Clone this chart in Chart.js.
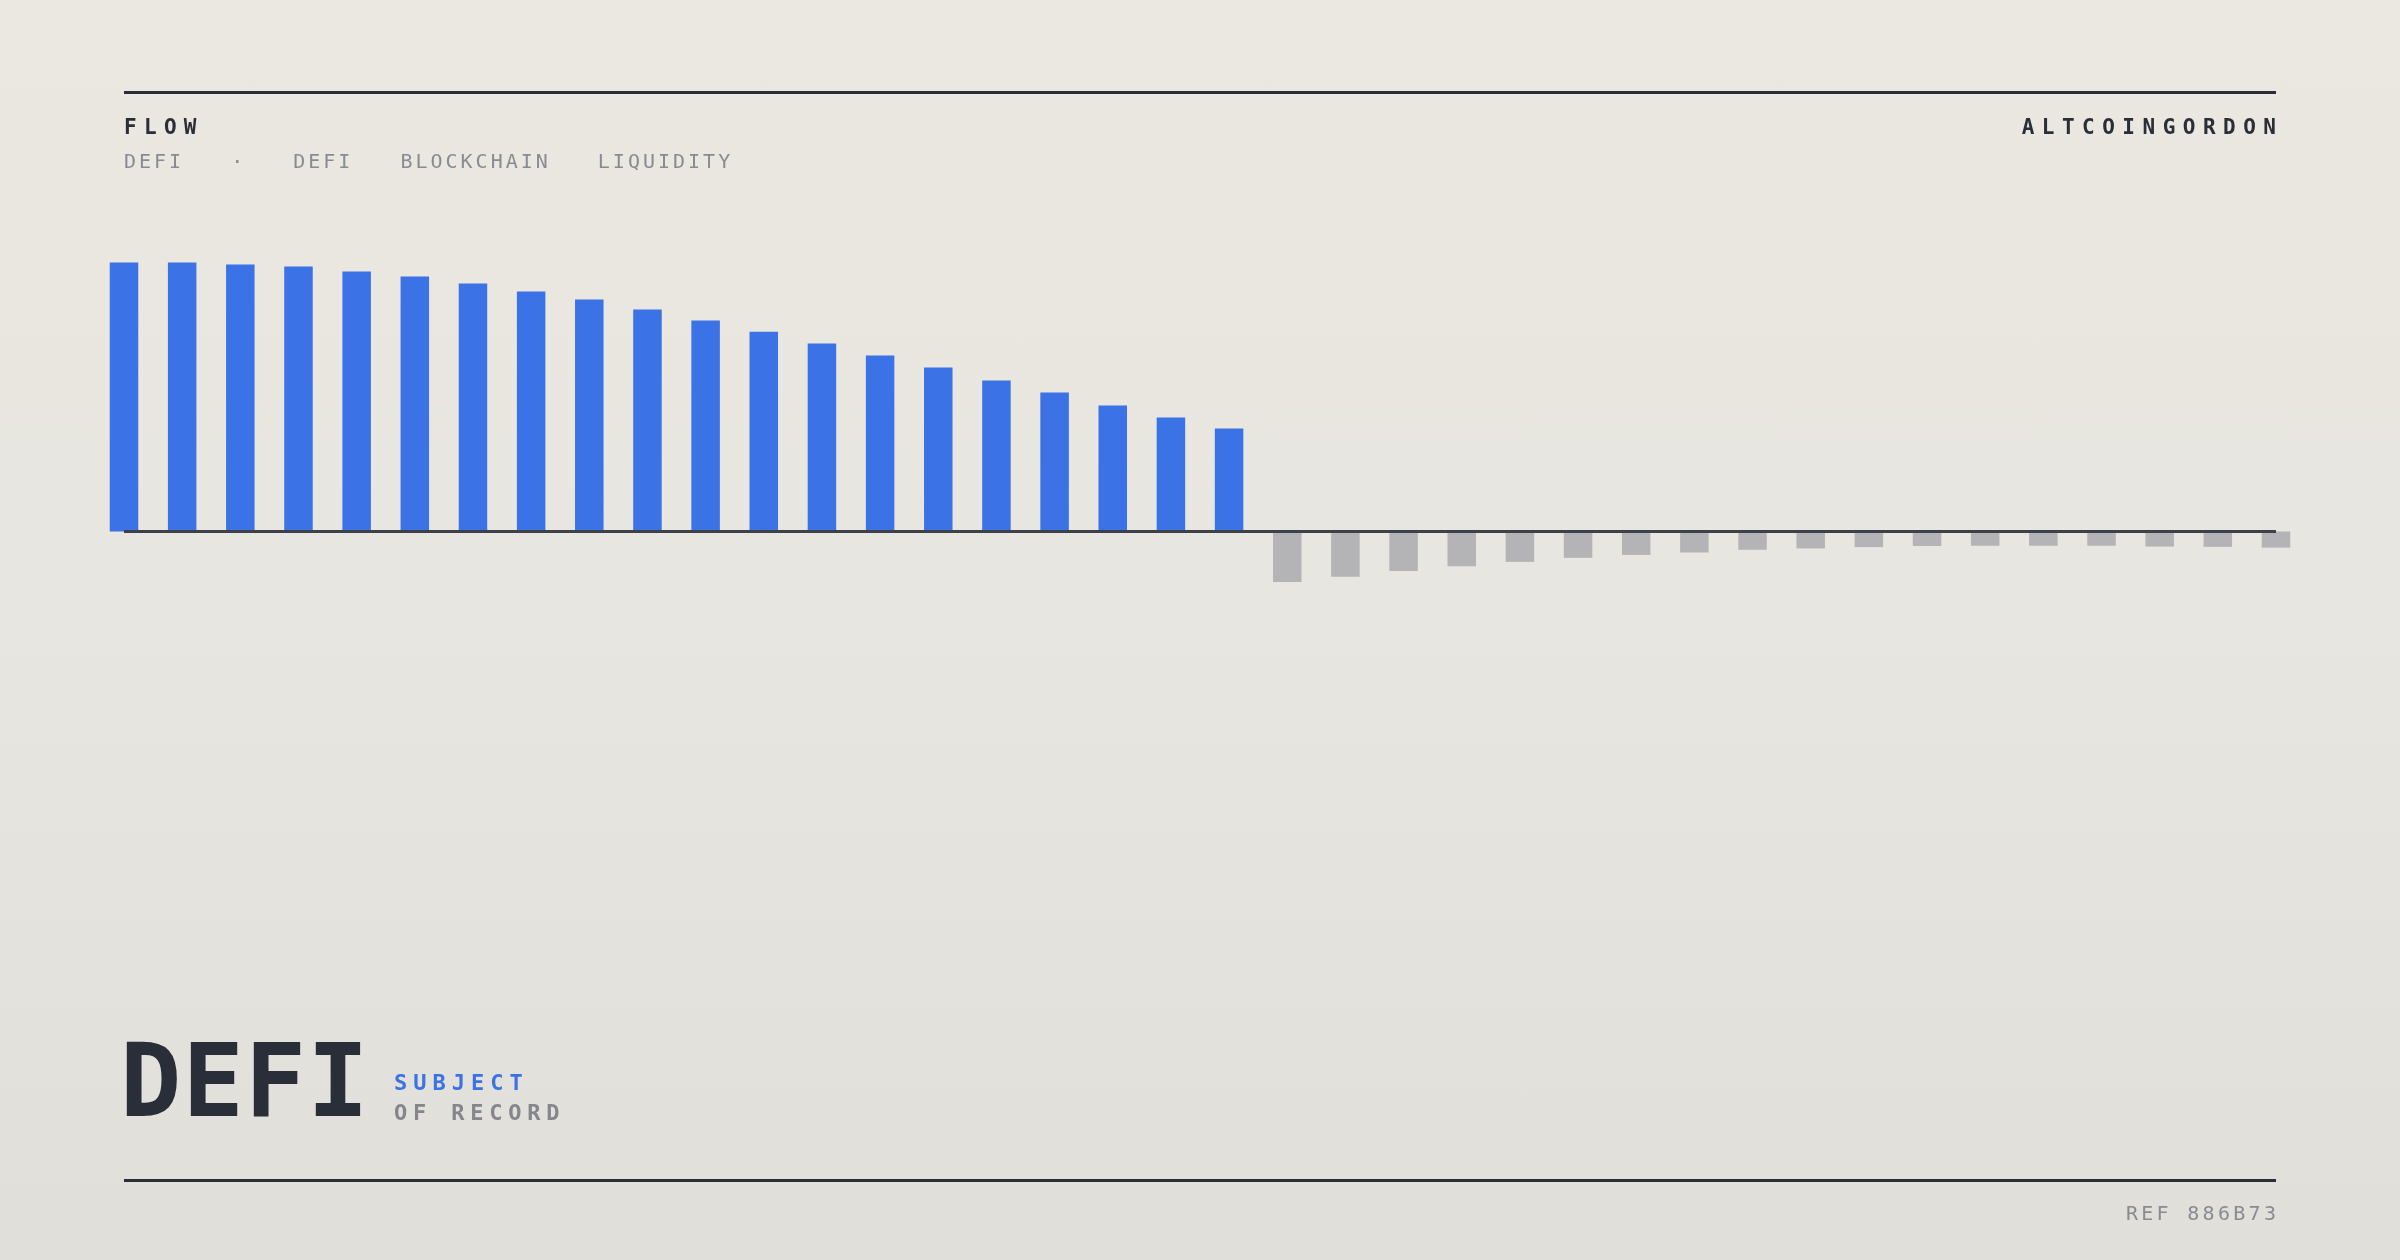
<!DOCTYPE html>
<html>
<head>
<meta charset="utf-8">
<script src="https://cdn.jsdelivr.net/npm/chart.js@4"></script>
<style>
  html, body { margin: 0; padding: 0; }
  body {
    width: 2400px; height: 1260px; position: relative; overflow: hidden;
    background: linear-gradient(180deg, #ebe8e1 0%, #e8e6e0 45%, #e0dfda 100%);
    font-family: "DejaVu Sans Mono", "Liberation Mono", monospace;
  }
  #chart { position: absolute; left: 0; top: 0; }
  .rule { position: absolute; left: 124px; width: 2152px; height: 3px; background: #2a2e38; }
  .t { position: absolute; line-height: 1; white-space: pre; }
  #flow { left: 124px; top: 117px; font-size: 21px; font-weight: bold; letter-spacing: 7.3px; color: #2a2e38; }
  #brand { right: 124px; top: 117px; font-size: 21px; font-weight: bold; letter-spacing: 7.5px; margin-right: -7.5px; color: #2a2e38; }
  #tags { left: 124px; top: 151px; font-size: 20px; letter-spacing: 3.0px; color: #8a8b90; display: flex; gap: 47px; }
  #big { left: 120px; top: 1030px; font-size: 102px; font-weight: bold; letter-spacing: 1px; color: #2a2e38; }
  #subj { left: 394px; top: 1072px; font-size: 22px; font-weight: bold; letter-spacing: 6px; color: #3b72e6; }
  #rec { left: 394px; top: 1102px; font-size: 22px; font-weight: bold; letter-spacing: 5.8px; color: #85868c; }
  #ref { right: 124px; top: 1203px; font-size: 20px; letter-spacing: 3.3px; margin-right: -3.3px; color: #8a8b90; }
</style>
</head>
<body>
<canvas id="chart" width="2400" height="1260"></canvas>
<div class="rule" style="top:91px"></div>
<div class="rule" style="top:1179px"></div>
<div class="t" id="flow">FLOW</div>
<div class="t" id="brand">ALTCOINGORDON</div>
<div class="t" id="tags"><span>DEFI</span><span>·</span><span>DEFI</span><span>BLOCKCHAIN</span><span>LIQUIDITY</span></div>
<div class="t" id="big">DEFI</div>
<div class="t" id="subj">SUBJECT</div>
<div class="t" id="rec">OF RECORD</div>
<div class="t" id="ref">REF 886B73</div>
<script>
const categories = ['01','02','03','04','05','06','07','08','09','10',
                    '11','12','13','14','15','16','17','18','19','20',
                    '21','22','23','24','25','26','27','28','29','30',
                    '31','32','33','34','35','36','37','38'];
const inflows = [100, 100, 99.3, 98.5, 96.7, 94.8, 92.2, 89.2, 86.2, 82.5,
                 78.4, 74.3, 69.9, 65.4, 61.0, 56.1, 51.7, 46.8, 42.4, 38.3];
const outflows = [-18.8, -16.8, -14.7, -12.9, -11.3, -9.8, -8.7, -7.8, -6.8, -6.3,
                  -5.8, -5.4, -5.3, -5.3, -5.3, -5.6, -5.7, -6.0];
const flow = inflows.concat(outflows);

const BLUE = '#3b72e6';
const GREY = '#b4b4b6';

const zeroLine = {
  id: 'zeroLine',
  afterDatasetsDraw(chart) {
    const { ctx, chartArea, scales } = chart;
    const y = scales.y.getPixelForValue(0);
    ctx.save();
    ctx.strokeStyle = '#3e4149';
    ctx.lineWidth = 3;
    ctx.beginPath();
    ctx.moveTo(chartArea.left, y);
    ctx.lineTo(chartArea.right, y);
    ctx.stroke();
    ctx.restore();
  }
};

new Chart(document.getElementById('chart'), {
  type: 'bar',
  data: {
    labels: categories,
    datasets: [{
      label: 'Flow',
      data: flow,
      backgroundColor: flow.map(v => v >= 0 ? BLUE : GREY),
      borderWidth: 0,
      categoryPercentage: 1,
      barPercentage: 0.49,
      clip: false
    }]
  },
  options: {
    responsive: false,
    devicePixelRatio: 1,
    animation: false,
    layout: { padding: { left: 124, right: 124, top: 235.6, bottom: 620.9 } },
    plugins: { legend: { display: false }, tooltip: { enabled: false } },
    scales: {
      x: { display: false, offset: false },
      y: { display: false, min: -40, max: 110 }
    }
  },
  plugins: [zeroLine]
});
</script>
</body>
</html>
